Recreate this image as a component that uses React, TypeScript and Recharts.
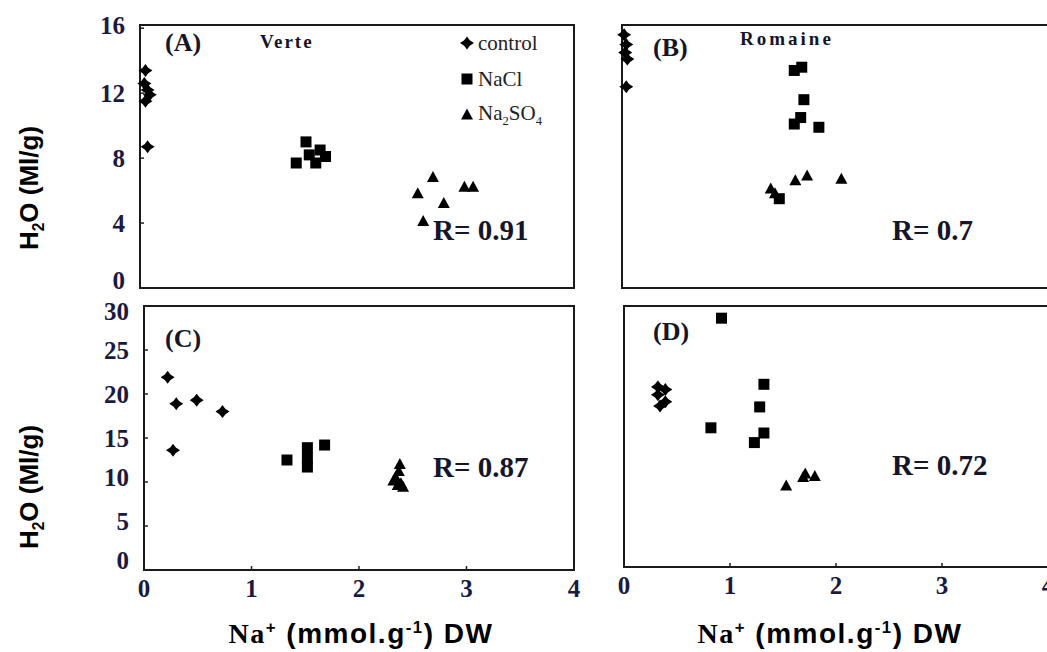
import React from 'react';
import { ScatterChart, Scatter, XAxis, YAxis, ReferenceArea, Legend } from 'recharts';

// Na+ (mmol/g DW) vs H2O (Ml/g) — [na, h2o] pairs
const verteControlA = [[0.05, 13.4], [0.04, 12.6], [0.07, 12.2], [0.09, 11.9], [0.05, 11.5], [0.07, 8.7]];
const verteNaClA = [[1.44, 7.7], [1.53, 9.0], [1.56, 8.2], [1.62, 7.7], [1.66, 8.5], [1.71, 8.1]];
const verteNa2SO4A = [[2.56, 5.8], [2.7, 6.8], [2.61, 4.1], [2.8, 5.2], [2.99, 6.2], [3.07, 6.2]];

const romaineControlB = [[0.02, 15.6], [0.04, 15.0], [0.03, 14.5], [0.05, 14.1], [0.04, 12.4]];
const romaineNaClB = [[1.61, 13.4], [1.68, 13.6], [1.7, 11.6], [1.61, 10.1], [1.67, 10.5], [1.84, 9.9], [1.47, 5.5]];
const romaineNa2SO4B = [[1.39, 6.1], [1.43, 5.8], [1.62, 6.6], [1.73, 6.9], [2.05, 6.7]];

const verteControlC = [[0.22, 21.9], [0.3, 18.9], [0.49, 19.3], [0.73, 18.0], [0.27, 13.6]];
const verteNaClC = [[1.33, 12.5], [1.52, 13.9], [1.52, 12.7], [1.52, 11.7], [1.68, 14.2]];
const verteNa2SO4C = [[2.38, 12.0], [2.37, 11.2], [2.34, 10.5], [2.32, 10.1], [2.39, 9.8], [2.41, 9.4], [2.36, 9.6]];

const romaineControlD = [[0.32, 20.7], [0.39, 20.4], [0.32, 19.8], [0.39, 19.0], [0.34, 18.5]];
const romaineNaClD = [[0.92, 28.6], [0.82, 16.0], [1.32, 21.0], [1.28, 18.4], [1.32, 15.4], [1.23, 14.3]];
const romaineNa2SO4D = [[1.53, 9.3], [1.69, 10.3], [1.71, 10.7], [1.8, 10.4]];

const X_TICKS = [0, 1, 2, 3, 4];
const Y_TICKS_TOP = [0, 4, 8, 12, 16];
const Y_TICKS_BOTTOM = [0, 5, 10, 15, 20, 25, 30];

// small nudges so the printed labels sit where the original ones do
const LABEL_SHIFT_TOP: Record<number, number> = { 0: -8, 16: -3 };
const LABEL_SHIFT_BOTTOM: Record<number, number> = { 0: -10, 5: -5, 10: -5, 30: 5 };

const LEGEND_ORDER = ['control', 'nacl', 'na2so4'];

const toPoints = (rows: number[][]) => rows.map(([na, h2o]) => ({ na, h2o }));

const PAD_L = 70;
const PAD_R = 10;
const PAD_T = 20;
const PAD_B = 40;

const tickFont = {
  fontFamily: '"Liberation Serif", serif',
  fontSize: 25,
  fontWeight: 'bold',
  fill: '#1a1a40',
};

type Kind = 'control' | 'nacl' | 'na2so4';

const markerPath = (kind: Kind, cx: number, cy: number) => {
  if (kind === 'control') {
    return `M${cx},${cy - 6.5} L${cx + 2.8},${cy - 2.8} L${cx + 7},${cy} L${cx + 2.8},${cy + 2.8} L${cx},${cy + 6.5} L${cx - 2.8},${cy + 2.8} L${cx - 7},${cy} L${cx - 2.8},${cy - 2.8} Z`;
  }
  if (kind === 'nacl') {
    return `M${cx - 5.5},${cy - 5.5} h11 v11 h-11 Z`;
  }
  return `M${cx},${cy - 6.5} L${cx + 6},${cy + 4.5} L${cx - 6},${cy + 4.5} Z`;
};

const shapeFor = (kind: Kind) => (props: any) => (
  <path d={markerPath(kind, props.cx, props.cy)} fill="#000" />
);

const makeYTick = (shift: Record<number, number>) => (props: any) => {
  const { x, y, payload } = props;
  return (
    <text x={x} y={y + (shift[payload.value] || 0)} dy="0.35em" textAnchor="end" {...tickFont}>
      {payload.value}
    </text>
  );
};

const LEGEND_LABELS: Record<string, React.ReactNode> = {
  control: 'control',
  nacl: 'NaCl',
  na2so4: (
    <span>
      Na<sub style={{ fontSize: '0.6em' }}>2</sub>SO<sub style={{ fontSize: '0.6em' }}>4</sub>
    </span>
  ),
};

const renderLegend = (props: any) => {
  const items = [...(props.payload || [])].sort(
    (a: any, b: any) => LEGEND_ORDER.indexOf(a.value) - LEGEND_ORDER.indexOf(b.value)
  );
  return (
    <div style={{ fontFamily: '"Liberation Serif", serif', fontSize: 21, color: '#222', lineHeight: 1 }}>
      {items.map((entry: any) => (
        <div key={entry.value} style={{ display: 'flex', alignItems: 'center', height: 36 }}>
          <svg width={16} height={16}>
            <path d={markerPath(entry.value as Kind, 8, 8)} fill="#000" />
          </svg>
          <span style={{ marginLeft: 3 }}>{LEGEND_LABELS[entry.value]}</span>
        </div>
      ))}
    </div>
  );
};

interface PanelProps {
  rect: [number, number, number, number];
  yMax: number;
  yTicks: number[];
  labelShift: Record<number, number>;
  showY: boolean;
  showX: boolean;
  control: number[][];
  nacl: number[][];
  na2so4: number[][];
  legend?: boolean;
}

const Panel: React.FC<PanelProps> = ({ rect, yMax, yTicks, labelShift, showY, showX, control, nacl, na2so4, legend }) => {
  const [x0, y0, x1, y1] = rect;
  const width = x1 - x0 + PAD_L + PAD_R;
  const height = y1 - y0 + PAD_T + PAD_B;
  return (
    <div style={{ position: 'absolute', left: x0 - PAD_L, top: y0 - PAD_T }}>
      <ScatterChart width={width} height={height} margin={{ top: PAD_T, right: PAD_R, bottom: 0, left: 0 }}>
        <XAxis
          type="number"
          dataKey="na"
          domain={[0, 4]}
          ticks={X_TICKS}
          height={PAD_B}
          axisLine={false}
          tickSize={-4}
          tickMargin={13}
          tickLine={{ stroke: '#222', strokeWidth: 1.5 }}
          tick={showX ? tickFont : false}
          interval={0}
        />
        <YAxis
          type="number"
          dataKey="h2o"
          domain={[0, yMax]}
          ticks={yTicks}
          width={PAD_L}
          axisLine={false}
          tickSize={-4}
          tickMargin={19}
          tickLine={{ stroke: '#222', strokeWidth: 1.5 }}
          tick={showY ? makeYTick(labelShift) : false}
          interval={0}
        />
        <ReferenceArea x1={0} x2={4} y1={0} y2={yMax} fill="none" stroke="#1a1a1a" strokeWidth={2} ifOverflow="visible" />
        {legend && (
          <Legend
            layout="vertical"
            align="center"
            verticalAlign="middle"
            content={renderLegend}
            wrapperStyle={{ left: 389, top: 20, width: 'auto' }}
          />
        )}
        <Scatter name="control" data={toPoints(control)} shape={shapeFor('control')} isAnimationActive={false} />
        <Scatter name="nacl" data={toPoints(nacl)} shape={shapeFor('nacl')} isAnimationActive={false} />
        <Scatter name="na2so4" data={toPoints(na2so4)} shape={shapeFor('na2so4')} isAnimationActive={false} />
      </ScatterChart>
    </div>
  );
};

const Note: React.FC<{ x: number; y: number; size: number; spacing?: number; children: React.ReactNode }> = ({ x, y, size, spacing, children }) => (
  <div
    style={{
      position: 'absolute',
      left: x,
      top: y,
      transform: 'translate(0,-50%)',
      fontFamily: '"Liberation Serif", serif',
      fontWeight: 'bold',
      fontSize: size,
      letterSpacing: spacing || 0,
      color: '#15152a',
      whiteSpace: 'nowrap',
      lineHeight: 1,
    }}
  >
    {children}
  </div>
);

const YTitle: React.FC<{ y: number }> = ({ y }) => (
  <div
    style={{
      position: 'absolute',
      left: 29,
      top: y,
      transform: 'translate(-50%,-50%) rotate(-90deg)',
      fontFamily: '"Liberation Sans", Arial, sans-serif',
      fontWeight: 'bold',
      fontSize: 26,
      whiteSpace: 'nowrap',
      lineHeight: 1,
      color: '#000',
    }}
  >
    H<sub style={{ fontSize: '0.6em', lineHeight: 0 }}>2</sub>O (Ml/g)
  </div>
);

const XTitle: React.FC<{ x: number }> = ({ x }) => (
  <div
    style={{
      position: 'absolute',
      left: x,
      top: 634,
      transform: 'translate(-50%,-50%)',
      fontFamily: '"Liberation Sans", Arial, sans-serif',
      fontWeight: 'bold',
      fontSize: 28,
      letterSpacing: 1.5,
      whiteSpace: 'nowrap',
      lineHeight: 1,
      color: '#000',
    }}
  >
    <span style={{ fontFamily: '"Liberation Serif", serif' }}>Na</span>
    <sup style={{ fontSize: '0.6em', lineHeight: 0 }}>+</sup> (mmol.g<sup style={{ fontSize: '0.6em', lineHeight: 0 }}>-1</sup>) DW
  </div>
);

export default function App() {
  return (
    <div style={{ position: 'absolute', left: 0, top: 0, width: 1047, height: 652, overflow: 'hidden', background: '#fff' }}>
      <Panel rect={[140, 25, 574, 288]} yMax={16.2} yTicks={Y_TICKS_TOP} labelShift={LABEL_SHIFT_TOP} showY showX={false}
        control={verteControlA} nacl={verteNaClA} na2so4={verteNa2SO4A} legend />
      <Panel rect={[622, 25, 1050, 288]} yMax={16.2} yTicks={Y_TICKS_TOP} labelShift={LABEL_SHIFT_TOP} showY={false} showX={false}
        control={romaineControlB} nacl={romaineNaClB} na2so4={romaineNa2SO4B} />
      <Panel rect={[144, 306, 574, 570]} yMax={30} yTicks={Y_TICKS_BOTTOM} labelShift={LABEL_SHIFT_BOTTOM} showY showX
        control={verteControlC} nacl={verteNaClC} na2so4={verteNa2SO4C} />
      <Panel rect={[624, 306, 1048, 567]} yMax={30} yTicks={Y_TICKS_BOTTOM} labelShift={LABEL_SHIFT_BOTTOM} showY={false} showX
        control={romaineControlD} nacl={romaineNaClD} na2so4={romaineNa2SO4D} />

      <Note x={165} y={43} size={26}>(A)</Note>
      <Note x={260} y={41} size={19} spacing={2}>Verte</Note>
      <Note x={433} y={230} size={29}>R= 0.91</Note>

      <Note x={653} y={48} size={26}>(B)</Note>
      <Note x={740} y={38} size={19} spacing={3}>Romaine</Note>
      <Note x={892} y={230} size={29}>R= 0.7</Note>

      <Note x={165} y={339} size={26}>(C)</Note>
      <Note x={433} y={467} size={29}>R= 0.87</Note>

      <Note x={653} y={332} size={26}>(D)</Note>
      <Note x={892} y={465} size={29}>R= 0.72</Note>

      <YTitle y={188} />
      <YTitle y={487} />
      <XTitle x={361} />
      <XTitle x={830} />
    </div>
  );
}
